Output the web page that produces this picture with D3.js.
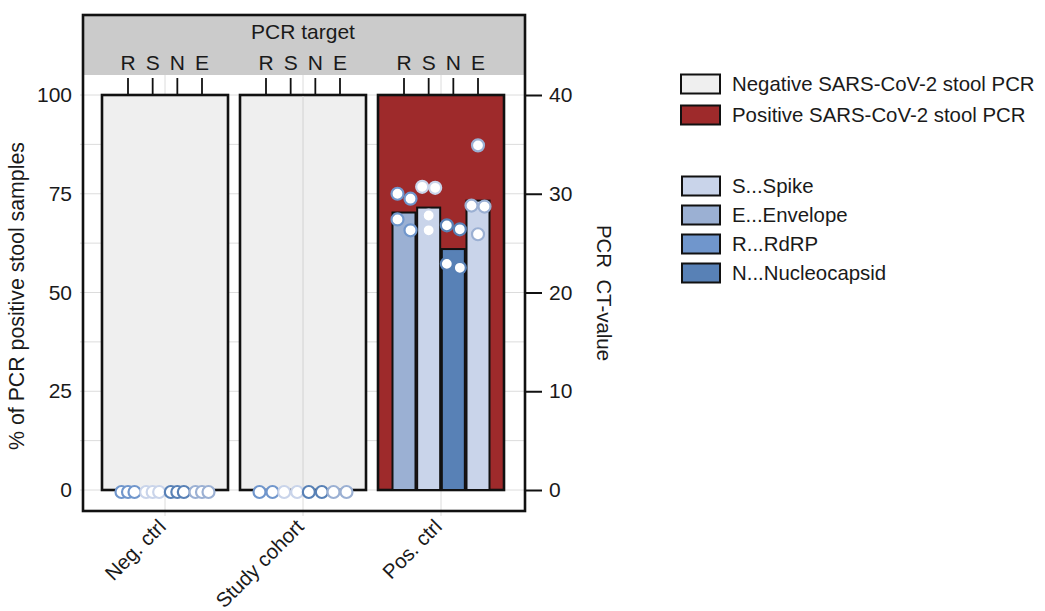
<!DOCTYPE html>
<html>
<head>
<meta charset="utf-8">
<script src="https://cdn.jsdelivr.net/npm/d3@7"></script>
<style>
    body{ margin: 0; background: #fff; }
    text{ font-family: "Liberation Sans", Arial, sans-serif; fill: #1a1a1a; }
</style>
</head>
<body>
<svg id="chart" width="1045" height="611"></svg>
<script>
// ---- data ----
const groups = ['Neg. ctrl', 'Study cohort', 'Pos. ctrl'];
const pctPositive = [0, 0, 100];
const targets = ['R', 'S', 'N', 'E'];
// mean CT per target (pos. ctrl only)
const meanCtPos = [28.1, 28.6, 24.4, 29.3];
// single CT values per target, order R S N E
const ctNeg = [[0, 0, 0], [0, 0, 0], [0, 0, 0], [0, 0, 0]];
const ctStudy = [[0, 0], [0, 0], [0, 0], [0, 0]];
const ctPos = [
    [29.5, 30.0, 26.3, 27.4],
    [30.6, 30.7, 27.8, 26.3],
    [26.4, 26.8, 22.5, 22.9],
    [28.8, 28.7, 34.9, 25.9]
];
const pctTicks = [0, 25, 50, 75, 100];
const ctTicks = [0, 10, 20, 30, 40];
const legendPcr = ['Negative SARS-CoV-2 stool PCR', 'Positive SARS-CoV-2 stool PCR'];
const legendTargets = ['S...Spike', 'E...Envelope', 'R...RdRP', 'N...Nucleocapsid'];

// ---- styles ----
const targetColor = {S: '#c9d4ea', E: '#9bb0d3', R: '#7096cc', N: '#5881b6'};
// the bars in the figure do not use the legend order 1:1
const barColor = {R: '#9bb0d3', S: '#c9d4ea', N: '#5881b6', E: '#c9d4ea'};
const negFill = '#efefef', posFill = '#9e2a2b';
const gridColor = '#dcdcdc';
const fontSize = 20.4;

const svg = d3.select('#chart');
const panel = {left: 83, right: 525, top: 15, bottom: 511, stripBottom: 75};

const yPct = d3.scaleLinear().domain([0, 100]).range([490, 95]);
const yCt = d3.scaleLinear().domain([0, 40]).range([490, 95]);
const x = d3.scalePoint().domain(groups).range([96, 510]).padding(0.5);
const xt = d3.scalePoint().domain(targets).range([-37, 37]);
const boxWidth = 126, barWidth = 23, r = 6;

// grid
const grid = svg.append('g');
grid.selectAll('.hgrid')
    .data(d3.range(0, 100.1, 12.5))
    .join('line')
    .attr('x1', panel.left - 3).attr('x2', panel.right)
    .attr('y1', d => yPct(d)).attr('y2', d => yPct(d))
    .attr('stroke', gridColor).attr('stroke-width', 1);
grid.selectAll('.vgrid')
    .data(groups)
    .join('line')
    .attr('x1', d => x(d)).attr('x2', d => x(d))
    .attr('y1', panel.stripBottom).attr('y2', panel.bottom + 5)
    .attr('stroke', gridColor).attr('stroke-width', 1);

// strip on top
svg.append('rect')
    .attr('x', panel.left).attr('y', panel.top)
    .attr('width', panel.right - panel.left).attr('height', panel.stripBottom - panel.top)
    .attr('fill', '#cbcbcb');
svg.append('text')
    .attr('x', x('Study cohort')).attr('y', 39)
    .attr('text-anchor', 'middle').attr('font-size', 21)
    .text('PCR target');

// target ticks + labels per group
groups.forEach(function(g){
    const gg = svg.append('g').attr('transform', 'translate(' + x(g) + ',0)');
    gg.selectAll('line')
        .data(targets)
        .join('line')
        .attr('x1', d => xt(d)).attr('x2', d => xt(d))
        .attr('y1', 78).attr('y2', yPct(100))
        .attr('stroke', '#111').attr('stroke-width', 1.8);
    gg.selectAll('text')
        .data(targets)
        .join('text')
        .attr('x', d => xt(d)).attr('y', 70)
        .attr('text-anchor', 'middle').attr('font-size', 21)
        .text(d => d);
});

// group boxes (% positive)
svg.selectAll('.box')
    .data(groups)
    .join('rect')
    .attr('x', d => x(d) - boxWidth / 2)
    .attr('y', (d, i) => yPct(Math.max(pctPositive[i], 100)))
    .attr('width', boxWidth)
    .attr('height', (d, i) => yPct(0) - yPct(100))
    .attr('fill', (d, i) => pctPositive[i] > 50 ? posFill : negFill)
    .attr('stroke', '#111').attr('stroke-width', 2.6);

// the faint centre line seen through the study cohort box
svg.append('line')
    .attr('x1', x('Study cohort')).attr('x2', x('Study cohort'))
    .attr('y1', yPct(100) + 1).attr('y2', yPct(0) - 1)
    .attr('stroke', '#d2d2d2').attr('stroke-width', 1);

// mean CT bars (pos ctrl)
svg.selectAll('.ctbar')
    .data(targets)
    .join('rect')
    .attr('x', d => x('Pos. ctrl') + xt(d) - barWidth / 2)
    .attr('y', (d, i) => yCt(meanCtPos[i]))
    .attr('width', barWidth)
    .attr('height', (d, i) => yCt(0) - yCt(meanCtPos[i]))
    .attr('fill', d => barColor[d])
    .attr('stroke', '#111').attr('stroke-width', 2);

/**
 * simple swarm: bin points that are closer than one diameter,
 * spread each bin symmetrically around the target position
 */
function swarm(values){
    const pts = values.map(v => ({v: v, y: yCt(v)})).sort((a, b) => a.y - b.y);
    let bins = [];
    pts.forEach(function(p){
        const last = bins[bins.length - 1];
        if(last && p.y - last[0].y < 2 * r){
            last.push(p);
        }
        else{
            bins.push([p]);
        }
    });
    bins.forEach(function(bin){
        const k = bin.length;
        bin.forEach(function(p, j){
            p.dx = k === 1 ? 0 : -6.5 + 13 * j / (k - 1);
        });
    });
    return pts;
}

const ctByGroup = [ctNeg, ctStudy, ctPos];
groups.forEach(function(g, gi){
    targets.forEach(function(t, ti){
        svg.append('g')
            .selectAll('circle')
            .data(swarm(ctByGroup[gi][ti]))
            .join('circle')
            .attr('cx', d => x(g) + xt(t) + d.dx)
            .attr('cy', d => d.y + (d.v === 0 ? 2 : 0))
            .attr('r', r)
            .attr('fill', '#fff')
            .attr('stroke', targetColor[t])
            .attr('stroke-width', 2.2);
    });
});

// panel border
svg.append('rect')
    .attr('x', panel.left).attr('y', panel.top)
    .attr('width', panel.right - panel.left).attr('height', panel.bottom - panel.top)
    .attr('fill', 'none').attr('stroke', '#111').attr('stroke-width', 2.6);

// left axis
const leftAxis = svg.append('g')
    .attr('transform', 'translate(' + panel.left + ',0)')
    .call(d3.axisLeft(yPct).tickValues(pctTicks).tickSize(0).tickPadding(11));
leftAxis.select('.domain').remove();
leftAxis.selectAll('text').attr('font-size', 21).attr('fill', '#1a1a1a').style('font-family', null);

svg.append('text')
    .attr('transform', 'translate(24,' + 296 + ') rotate(-90)')
    .attr('text-anchor', 'middle').attr('font-size', 21.3)
    .text('% of PCR positive stool samples');

// right axis (CT)
const rightAxis = svg.append('g')
    .attr('transform', 'translate(' + (panel.right - 1) + ',0)')
    .call(d3.axisRight(yCt).tickValues(ctTicks).tickSize(18).tickPadding(7));
rightAxis.select('.domain').remove();
rightAxis.selectAll('line').attr('stroke', '#111').attr('stroke-width', 2);
rightAxis.selectAll('text').attr('font-size', 21).attr('fill', '#1a1a1a').style('font-family', null);

svg.append('text')
    .attr('transform', 'translate(597,' + 293 + ') rotate(90)')
    .attr('text-anchor', 'middle').attr('font-size', fontSize)
    .style('white-space', 'pre')
    .text('PCR  CT-value');

// category labels
svg.selectAll('.xlab')
    .data(groups)
    .join('text')
    .attr('transform', d => 'translate(' + (x(d) - 8) + ',518) rotate(-45)')
    .attr('text-anchor', 'end').attr('font-size', fontSize)
    .attr('dy', '0.7em')
    .text(d => d);

// legend
const legend = svg.append('g');
const pcrFills = [negFill, posFill];
legendPcr.forEach(function(label, i){
    const cy = 84 + i * 31;
    legend.append('rect')
        .attr('x', 681).attr('y', cy - 9.5).attr('width', 39).attr('height', 19)
        .attr('fill', pcrFills[i]).attr('stroke', '#111').attr('stroke-width', 2);
    legend.append('text')
        .attr('x', 732).attr('y', cy).attr('dy', '0.36em')
        .attr('font-size', fontSize)
        .text(label);
});
legendTargets.forEach(function(label, i){
    const cy = 186 + i * 29;
    legend.append('rect')
        .attr('x', 682).attr('y', cy - 9.5).attr('width', 38).attr('height', 19)
        .attr('fill', targetColor[label[0]]).attr('stroke', '#111').attr('stroke-width', 2);
    legend.append('text')
        .attr('x', 732).attr('y', cy).attr('dy', '0.36em')
        .attr('font-size', fontSize)
        .text(label);
});
</script>
</body>
</html>
